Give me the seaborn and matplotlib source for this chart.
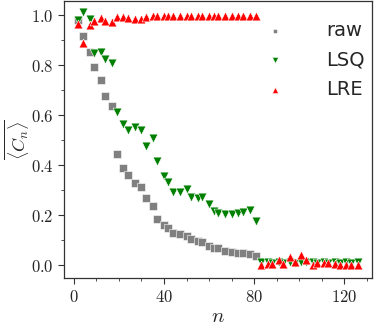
import numpy as np
import pandas as pd
import matplotlib
matplotlib.use("Agg")
import matplotlib.pyplot as plt
import seaborn as sns
from matplotlib.ticker import MultipleLocator, FuncFormatter

# ---- data ----
n_main = [2, 4, 7, 9, 12, 14, 17, 19, 22, 24, 27, 30, 32, 35, 37, 40, 42, 44,
          47, 50, 52, 55, 57, 60, 62, 64, 67, 70, 73, 75, 78, 81]
n_tail = [83, 86, 88, 91, 93, 96, 98, 101, 103, 106, 108, 111, 113, 116, 118,
          121, 123, 126]

raw_vals = [0.98, 0.915, 0.851, 0.793, 0.74, 0.677, 0.637, 0.444, 0.389, 0.36,
            0.329, 0.312, 0.268, 0.235, 0.185, 0.161, 0.147, 0.129, 0.123,
            0.115, 0.103, 0.097, 0.091, 0.077, 0.068, 0.068, 0.055, 0.052,
            0.049, 0.048, 0.045, 0.037]

lsq_main = [0.98, 1.011, 0.983, 0.847, 0.851, 0.825, 0.808, 0.613, 0.563, 0.54,
            0.553, 0.541, 0.476, 0.509, 0.417, 0.357, 0.332, 0.292, 0.291,
            0.305, 0.271, 0.27, 0.272, 0.244, 0.215, 0.21, 0.206, 0.204,
            0.21, 0.211, 0.219, 0.177]
lsq_tail = [0.011, 0.011, 0.010, 0.011, 0.010, 0.011, 0.010, 0.011, 0.012,
            0.011, 0.010, 0.011, 0.010, 0.011, 0.010, 0.011, 0.010, 0.011]

lre_main = [0.964, 0.889, 0.96, 0.977, 0.989, 0.977, 0.971, 0.991, 0.993,
            0.989, 0.984, 0.984, 0.993, 0.996, 0.996, 0.996, 0.996, 0.996,
            0.996, 0.996, 0.996, 0.996, 0.996, 0.996, 0.996, 0.996, 0.996,
            0.996, 0.996, 0.996, 0.996, 0.996]
lre_tail = [0.002, 0.003, 0.006, 0.02, 0.004, 0.033, 0.013, 0.04, 0.02, 0.0,
            0.007, 0.009, 0.01, 0.004, 0.0, 0.0, 0.0, 0.0]

labels = ["raw", "LSQ", "LRE"]

# ---- figure ----
sns.set_style("ticks")
plt.rcParams["mathtext.fontset"] = "cm"
plt.rcParams["font.family"] = ["DejaVu Sans"]

fig = plt.figure(figsize=(3.74, 3.26), dpi=100)
ax = fig.add_axes([0.171, 0.147, 0.824, 0.85])

raw_df = pd.DataFrame({"n": n_main, "C": raw_vals})
lsq_df = pd.DataFrame({"n": n_main + n_tail, "C": lsq_main + lsq_tail})
lre_df = pd.DataFrame({"n": n_main + n_tail, "C": lre_main + lre_tail})

sns.scatterplot(data=raw_df, x="n", y="C", ax=ax, marker="s", color="grey",
                s=26, edgecolor="white", linewidth=0.4, label=labels[0])
sns.scatterplot(data=lsq_df, x="n", y="C", ax=ax, marker="v", color="green",
                s=40, edgecolor="white", linewidth=0.4, label=labels[1])
sns.scatterplot(data=lre_df, x="n", y="C", ax=ax, marker="^", color="red",
                s=40, edgecolor="white", linewidth=0.4, label=labels[2])

ax.set_xlim(-4.4, 132.4)
ax.set_ylim(-0.052, 1.056)

ax.xaxis.set_major_locator(MultipleLocator(40))
ax.xaxis.set_minor_locator(MultipleLocator(10))
ax.yaxis.set_major_locator(MultipleLocator(0.2))
ax.yaxis.set_minor_locator(MultipleLocator(0.1))
ax.xaxis.set_major_formatter(FuncFormatter(lambda v, p: f"${v:.0f}$"))
ax.yaxis.set_major_formatter(FuncFormatter(lambda v, p: f"${v:.1f}$"))
ax.tick_params(axis="both", which="major", labelsize=12, length=4, width=0.8,
               color="#333333")
ax.tick_params(axis="both", which="minor", length=2, width=0.6, color="#333333")
for sp in ax.spines.values():
    sp.set_visible(True)
    sp.set_color("#333333")
    sp.set_linewidth(0.9)

ax.set_xlabel(r"$n$", fontsize=15, labelpad=0)
ax.set_ylabel(r"$\overline{\langle C_n \rangle}$", fontsize=13, labelpad=0)

leg = ax.legend(loc="upper left", bbox_to_anchor=(0.565, 0.992), frameon=False,
                fontsize=14, handletextpad=1.65, labelspacing=0.55,
                markerscale=0.7)

fig.savefig("out.png", dpi=100)
